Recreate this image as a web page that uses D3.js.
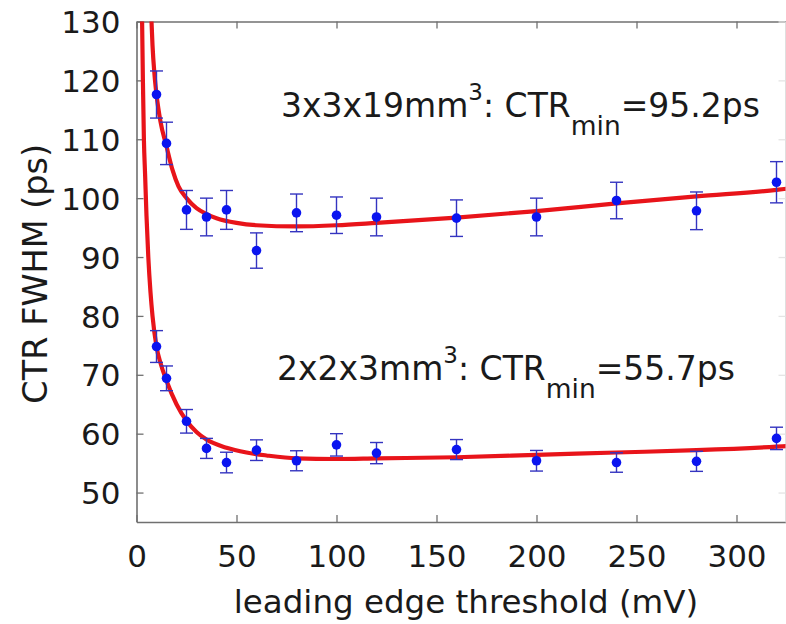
<!DOCTYPE html>
<html>
<head>
<meta charset="utf-8">
<script src="https://cdn.jsdelivr.net/npm/d3@7"></script>
<style>
  html, body { margin: 0; padding: 0; background: #fff; }
  svg { display: block; }
  text { font-family: "DejaVu Sans", "Liberation Sans", Arial, sans-serif; fill: #1a1a1a; }
</style>
</head>
<body>
<svg id="chart" width="786" height="624"></svg>
<script>
// ---- data ----
const thresholds = [10, 15, 25, 35, 45, 60, 80, 100, 120, 160, 200, 240, 280, 320];
const ctrLong  = [117.6, 109.3, 98.0, 96.8, 98.0, 91.1, 97.5, 97.1, 96.8, 96.6, 96.8, 99.6, 97.85, 102.7];
const errLong  = [4.0, 3.6, 3.3, 3.2, 3.3, 3.0, 3.2, 3.1, 3.2, 3.1, 3.2, 3.1, 3.2, 3.5];
const ctrShort = [74.8, 69.4, 62.1, 57.5, 55.1, 57.2, 55.4, 58.1, 56.7, 57.3, 55.4, 55.1, 55.3, 59.2];
const errShort = [2.7, 2.1, 2.0, 1.7, 1.75, 1.75, 1.7, 1.9, 1.8, 1.7, 1.75, 1.65, 1.7, 1.9];

const fitLongX = [7.5, 8, 9, 10, 12, 15, 18, 21, 25, 30, 35, 40, 50, 60, 80, 100, 120, 160, 200, 240, 280, 320, 325];
const fitLongY = [130, 126, 121, 117.6, 113, 108.8, 104.8, 102, 100.0, 98.3, 97.3, 96.6, 95.8, 95.4, 95.2, 95.4, 95.8, 96.7, 97.8, 99.1, 100.3, 101.4, 101.6];
const fitShortX = [2.8, 3.2, 3.7, 4.3, 5, 5.9, 7, 8, 10, 12, 15, 20, 25, 30, 35, 45, 55, 65, 80, 100, 120, 160, 200, 240, 280, 320, 325];
const fitShortY = [130, 120, 110, 104, 97, 90, 84, 80, 74.8, 72, 69, 65, 62.2, 60.3, 59, 57.6, 56.8, 56.3, 55.8, 55.7, 55.8, 56.0, 56.4, 56.8, 57.2, 57.8, 57.9];

const xTicks = [0, 50, 100, 150, 200, 250, 300];
const yTicks = [50, 60, 70, 80, 90, 100, 110, 120, 130];

const labelLong  = { pre: "3x3x19mm", sup: "3", mid: ": CTR", sub: "min", post: "=95.2ps" };
const labelShort = { pre: "2x2x3mm",  sup: "3", mid: ": CTR", sub: "min", post: "=55.7ps" };

// ---- layout ----
const L = 136.5, R = 785.5, T = 21.5, B = 522;
const svg = d3.select("#chart");
const x = d3.scaleLinear().domain([0, 324.5]).range([L, R]);
const y = d3.scaleLinear().domain([45, 130]).range([B, T]);

svg.append("defs").append("clipPath").attr("id", "clip")
  .append("rect").attr("x", L).attr("y", T).attr("width", R - L).attr("height", B - T);

const axisColor = "#707070";
const tickFont = 31;

// axes
const gx = svg.append("g").attr("transform", `translate(0,${B})`)
  .call(d3.axisBottom(x).tickValues(xTicks).tickSizeInner(-7).tickSizeOuter(0).tickPadding(23));
const gxt = svg.append("g").attr("transform", `translate(0,${T})`)
  .call(d3.axisTop(x).tickValues(xTicks).tickSizeInner(-7).tickSizeOuter(0).tickFormat(""));
const gy = svg.append("g").attr("transform", `translate(${L},0)`)
  .call(d3.axisLeft(y).tickValues(yTicks).tickSizeInner(-7).tickSizeOuter(0).tickPadding(16));
const gyr = svg.append("g").attr("transform", `translate(${R},0)`)
  .call(d3.axisRight(y).tickValues(yTicks).tickSizeInner(-7).tickSizeOuter(0).tickFormat(""));

[gx, gxt, gy, gyr].forEach(g => {
  g.select(".domain").attr("stroke", axisColor).attr("stroke-width", 1.6);
  g.selectAll(".tick line").attr("stroke", axisColor).attr("stroke-width", 1.3);
  g.selectAll(".tick text").attr("font-size", tickFont).attr("fill", "#1a1a1a")
    .attr("font-family", "'DejaVu Sans', 'Liberation Sans', Arial, sans-serif");
});
gyr.select(".domain").attr("stroke", "#d8d8d8");
gyr.selectAll(".tick line").attr("stroke", "#e4e4e4");
gy.selectAll(".tick text").attr("dy", "0.36em");
gx.selectAll(".tick text").attr("dy", "0.71em");

// axis titles
svg.append("text").attr("x", (L + R) / 2 + 5).attr("y", 613).attr("text-anchor", "middle")
  .attr("font-size", 32.5).text("leading edge threshold (mV)");
svg.append("text").attr("transform", `translate(47,${(T + B) / 2 + 2}) rotate(-90)`)
  .attr("text-anchor", "middle").attr("font-size", 33.5).text("CTR FWHM (ps)");

// plot
const plot = svg.append("g").attr("clip-path", "url(#clip)");
const line = d3.line().x(d => x(d[0])).y(d => y(d[1])).curve(d3.curveMonotoneX);

function drawFit(xs, ys) {
  plot.append("path").datum(xs.map((v, i) => [v, ys[i]]))
    .attr("d", line).attr("fill", "none").attr("stroke", "#e8141a")
    .attr("stroke-width", 4.2).attr("stroke-linejoin", "round").attr("stroke-linecap", "round");
}
function drawPoints(vals, errs) {
  const data = thresholds.map((t, i) => ({ t, v: vals[i], e: errs[i] }));
  const g = svg.append("g");
  const eb = g.selectAll(".eb").data(data).enter().append("g");
  const ebColor = "#3434c0";
  eb.append("line").attr("x1", d => x(d.t)).attr("x2", d => x(d.t))
    .attr("y1", d => y(d.v + d.e)).attr("y2", d => y(d.v - d.e))
    .attr("stroke", ebColor).attr("stroke-width", 1.4);
  [1, -1].forEach(s => {
    eb.append("line").attr("x1", d => x(d.t) - 6.5).attr("x2", d => x(d.t) + 6.5)
      .attr("y1", d => y(d.v + s * d.e)).attr("y2", d => y(d.v + s * d.e))
      .attr("stroke", ebColor).attr("stroke-width", 1.4);
  });
  g.selectAll("circle").data(data).enter().append("circle")
    .attr("cx", d => x(d.t)).attr("cy", d => y(d.v)).attr("r", 4.8).attr("fill", "#0a14f0");
}

drawFit(fitLongX, fitLongY);
drawFit(fitShortX, fitShortY);
drawPoints(ctrLong, errLong);
drawPoints(ctrShort, errShort);

// annotations
function annotate(lbl, x0, base) {
  const t = svg.append("text").attr("x", x0).attr("y", base).attr("font-size", 33);
  t.append("tspan").text(lbl.pre);
  t.append("tspan").attr("font-size", 23).attr("dy", -17).text(lbl.sup);
  t.append("tspan").attr("dy", 17).text(lbl.mid);
  t.append("tspan").attr("font-size", 26.5).attr("dy", 18).text(lbl.sub);
  t.append("tspan").attr("dy", -18).text(lbl.post);
}
annotate(labelLong, 281, 116.5);
annotate(labelShort, 277, 380);
</script>
</body>
</html>
